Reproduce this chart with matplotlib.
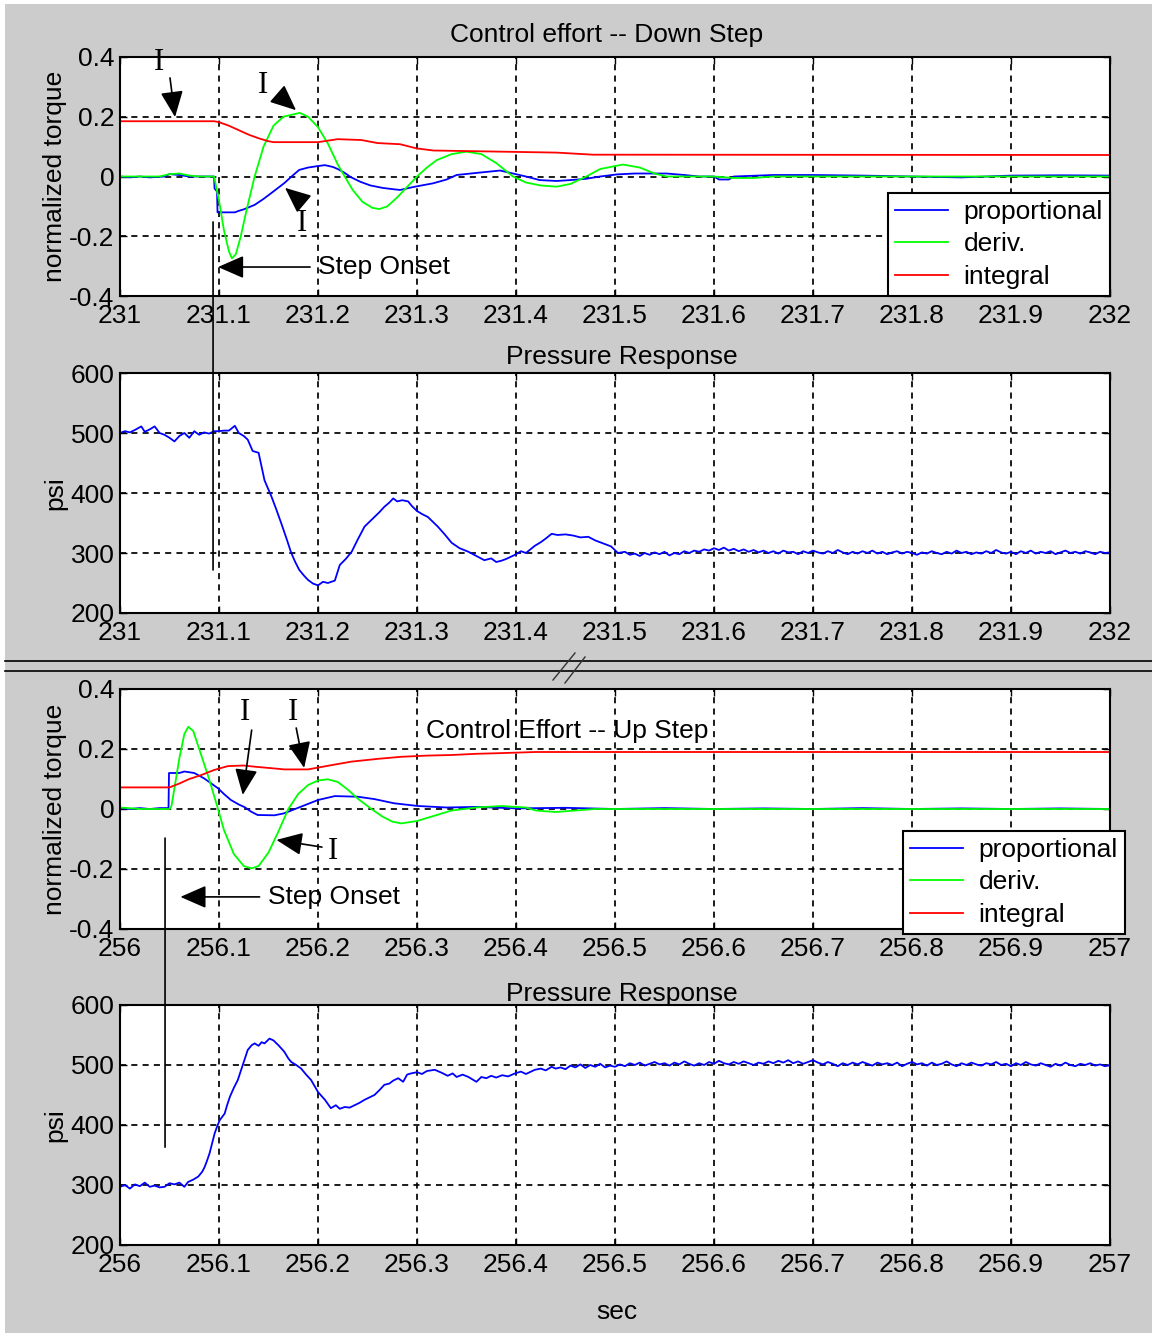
import matplotlib
matplotlib.use("Agg")
import matplotlib.pyplot as plt
from matplotlib.lines import Line2D
from matplotlib.patches import Rectangle, ConnectionPatch

plt.rcParams['font.family'] = ['Liberation Sans', 'DejaVu Sans']

# ---------------- data: Down step (t = 231 .. 232) ----------------
prop_down_t = [231.000, 231.010, 231.020, 231.030, 231.045, 231.050, 231.060, 231.070, 231.080, 231.095,
               231.0955, 231.098, 231.0985, 231.105, 231.116, 231.120, 231.125, 231.136, 231.145, 231.155,
               231.166, 231.175, 231.181, 231.190, 231.200, 231.207, 231.215, 231.220, 231.227, 231.233,
               231.243, 231.253, 231.265, 231.277, 231.283, 231.298, 231.316, 231.330, 231.340, 231.360,
               231.384, 231.397, 231.410, 231.424, 231.441, 231.455, 231.470, 231.485, 231.502, 231.520,
               231.552, 231.570, 231.585, 231.600, 231.605, 231.615, 231.620, 231.660, 231.700, 231.750,
               231.800, 231.850, 231.900, 231.950, 232.000]
prop_down_v = [0.0, -0.003, 0.0, -0.003, 0.0, 0.008, 0.005, 0.0, 0.0, 0.0,
               -0.04, -0.05, -0.12, -0.12, -0.12, -0.115, -0.11, -0.095, -0.075, -0.05,
               -0.022, 0.005, 0.022, 0.030, 0.035, 0.038, 0.032, 0.025, 0.012, -0.002,
               -0.018, -0.030, -0.038, -0.043, -0.045, -0.034, -0.023, -0.010, 0.005, 0.012,
               0.020, 0.010, 0.0, -0.012, -0.015, -0.012, -0.008, 0.0, 0.007, 0.010,
               0.010, 0.005, 0.0, 0.0, -0.010, -0.010, 0.0, 0.005, 0.005, 0.003,
               0.0, -0.003, 0.003, 0.004, 0.003]

deriv_down_t = [231.000, 231.040, 231.050, 231.060, 231.070, 231.080, 231.095, 231.100, 231.105, 231.110,
                231.113, 231.117, 231.122, 231.128, 231.136, 231.145, 231.155, 231.165, 231.1815, 231.190,
                231.200, 231.210, 231.220, 231.227, 231.235, 231.245, 231.255, 231.262, 231.270, 231.280,
                231.290, 231.300, 231.310, 231.320, 231.335, 231.350, 231.365, 231.380, 231.397, 231.410,
                231.425, 231.441, 231.455, 231.471, 231.485, 231.508, 231.525, 231.540, 231.552, 231.600,
                231.620, 231.640, 231.660, 232.000]
deriv_down_v = [0.0, 0.0, 0.008, 0.010, 0.003, 0.0, 0.0, -0.08, -0.18, -0.25,
                -0.274, -0.26, -0.20, -0.11, 0.0, 0.10, 0.17, 0.20, 0.213, 0.20,
                0.165, 0.11, 0.04, 0.0, -0.045, -0.085, -0.105, -0.109, -0.10, -0.07,
                -0.035, 0.0, 0.03, 0.055, 0.075, 0.083, 0.075, 0.045, 0.0, -0.02,
                -0.03, -0.034, -0.025, 0.0, 0.025, 0.04, 0.03, 0.01, 0.0, 0.0,
                -0.005, -0.005, 0.0, 0.0]

integ_down_t = [231.000, 231.095, 231.100, 231.110, 231.120, 231.130, 231.140, 231.150, 231.155, 231.200,
                231.210, 231.220, 231.244, 231.260, 231.283, 231.2997, 231.3165, 231.441, 231.478, 232.000]
integ_down_v = [0.185, 0.185, 0.182, 0.170, 0.155, 0.140, 0.128, 0.118, 0.115, 0.115,
                0.120, 0.125, 0.122, 0.112, 0.108, 0.094, 0.087, 0.080, 0.073, 0.072]

press_down_t = [231.000, 231.005, 231.010, 231.015, 231.0215, 231.025, 231.030, 231.035, 231.040, 231.045,
                231.050, 231.055, 231.060, 231.065, 231.070, 231.075, 231.080, 231.085, 231.090, 231.095,
                231.100, 231.105, 231.110, 231.116, 231.120, 231.125, 231.129, 231.134, 231.140, 231.146,
                231.153, 231.158, 231.163, 231.168, 231.173, 231.177, 231.181, 231.186, 231.190, 231.195,
                231.200, 231.205, 231.210, 231.217, 231.222, 231.228, 231.234, 231.240, 231.247, 231.252,
                231.257, 231.262, 231.267, 231.272, 231.276, 231.280, 231.285, 231.291, 231.295, 231.300,
                231.305, 231.311, 231.316, 231.321, 231.328, 231.335, 231.343, 231.352, 231.360, 231.368,
                231.375, 231.380, 231.385, 231.390, 231.395, 231.399, 231.405, 231.410, 231.419, 231.425,
                231.430, 231.436, 231.442, 231.450, 231.458, 231.465, 231.473, 231.480, 231.488, 231.496,
                231.503, 231.510, 231.515, 231.520, 231.525, 231.530, 231.535, 231.540, 231.545, 231.550,
                231.555, 231.560, 231.565, 231.570, 231.575, 231.580, 231.585, 231.590, 231.595, 231.600,
                231.605, 231.610, 231.615, 231.620, 231.625, 231.630, 231.635, 231.640, 231.645, 231.650,
                231.655, 231.660, 231.665, 231.670, 231.675, 231.680, 231.685, 231.690, 231.695, 231.700,
                231.705, 231.710, 231.715, 231.720, 231.725, 231.730, 231.735, 231.740, 231.745, 231.750,
                231.755, 231.760, 231.765, 231.770, 231.775, 231.780, 231.785, 231.790, 231.795, 231.800,
                231.805, 231.810, 231.815, 231.820, 231.825, 231.830, 231.835, 231.840, 231.845, 231.850,
                231.855, 231.860, 231.865, 231.870, 231.875, 231.880, 231.885, 231.890, 231.895, 231.900,
                231.905, 231.910, 231.915, 231.920, 231.925, 231.930, 231.935, 231.940, 231.945, 231.950,
                231.955, 231.960, 231.965, 231.970, 231.975, 231.980, 231.985, 231.990, 231.995, 232.000]
press_down_v = [500, 503, 501, 505, 511, 502, 506, 511, 500, 497,
                492, 486, 495, 500, 492, 503, 497, 501, 499, 503,
                503, 504, 504, 512, 500, 495, 489, 470, 467, 421,
                394, 372, 349, 325, 300, 285, 272, 262, 255, 249,
                246, 252, 250, 254, 280, 290, 302, 322, 344, 352,
                360, 368, 377, 384, 391, 386, 388, 386, 378, 370,
                365, 360, 352, 344, 331, 317, 308, 302, 295, 288,
                291, 285, 287, 290, 294, 297, 303, 300, 312, 318,
                324, 332, 330, 331, 329, 326, 327, 321, 316, 311,
                300, 302, 297, 299, 295, 300, 297, 301, 298, 302,
                296, 300, 298, 303, 300, 304, 302, 306, 304, 308,
                305, 309, 304, 307, 303, 306, 302, 305, 301, 304,
                300, 303, 299, 304, 301, 302, 298, 303, 300, 304,
                301, 299, 303, 300, 305, 301, 298, 302, 299, 303,
                300, 304, 299, 302, 298, 301, 303, 299, 302, 300,
                297, 301, 299, 303, 300, 298, 302, 299, 304, 300,
                302, 298, 301, 299, 303, 300, 305, 301, 299, 302,
                298, 303, 300, 304, 299, 302, 300, 303, 298, 301,
                304, 300, 302, 299, 303, 301, 298, 302, 300, 301]

# ---------------- data: Up step (t = 256 .. 257) ----------------
prop_up_t = [256.000, 256.010, 256.020, 256.030, 256.040, 256.049, 256.0495, 256.060, 256.065, 256.075,
             256.085, 256.099, 256.105, 256.112, 256.120, 256.126, 256.132, 256.139, 256.156, 256.165,
             256.170, 256.183, 256.200, 256.217, 256.240, 256.257, 256.277, 256.301, 256.330, 256.360,
             256.400, 256.450, 256.500, 256.550, 256.600, 256.650, 256.700, 256.750, 256.800, 256.850,
             256.900, 256.950, 257.000]
prop_up_v = [0.003, 0.0, 0.003, 0.0, 0.003, 0.003, 0.12, 0.12, 0.125, 0.12,
             0.102, 0.069, 0.05, 0.03, 0.015, 0.006, -0.008, -0.02, -0.021, -0.015,
             -0.009, 0.008, 0.03, 0.043, 0.041, 0.033, 0.019, 0.010, 0.005, 0.007,
             0.002, 0.004, 0.0, 0.003, 0.0, 0.002, 0.0, 0.003, 0.0, 0.002,
             0.0, 0.002, 0.0]

deriv_up_t = [256.000, 256.020, 256.050, 256.052, 256.055, 256.060, 256.065, 256.069, 256.074, 256.080,
              256.090, 256.099, 256.105, 256.115, 256.125, 256.133, 256.140, 256.150, 256.160, 256.170,
              256.180, 256.190, 256.200, 256.210, 256.220, 256.230, 256.240, 256.254, 256.265, 256.275,
              256.284, 256.300, 256.320, 256.335, 256.360, 256.385, 256.410, 256.420, 256.440, 256.460,
              256.480, 257.000]
deriv_up_v = [0.005, 0.0, 0.0, 0.01, 0.07, 0.17, 0.25, 0.274, 0.26, 0.20,
              0.10, 0.0, -0.07, -0.15, -0.19, -0.198, -0.19, -0.145, -0.075, 0.0,
              0.05, 0.08, 0.095, 0.099, 0.09, 0.065, 0.035, 0.0, -0.025, -0.042,
              -0.048, -0.04, -0.02, -0.005, 0.005, 0.01, 0.005, -0.005, -0.01, -0.005,
              0.0, 0.0]

integ_up_t = [256.000, 256.050, 256.060, 256.070, 256.082, 256.095, 256.109, 256.125, 256.136, 256.153,
              256.166, 256.190, 256.200, 256.215, 256.234, 256.260, 256.284, 256.310, 256.335, 256.360,
              256.382, 256.420, 257.000]
integ_up_v = [0.072, 0.072, 0.085, 0.100, 0.113, 0.130, 0.143, 0.145, 0.141, 0.136,
              0.132, 0.132, 0.138, 0.147, 0.158, 0.167, 0.174, 0.178, 0.180, 0.184,
              0.186, 0.190, 0.190]

press_up_t = [256.000, 256.005, 256.010, 256.015, 256.020, 256.025, 256.030, 256.035, 256.040, 256.045,
              256.050, 256.055, 256.060, 256.065, 256.0687, 256.074, 256.079, 256.083, 256.0855, 256.088,
              256.0905, 256.093, 256.0956, 256.098, 256.1007, 256.1057, 256.108, 256.111, 256.115, 256.119,
              256.124, 256.129, 256.133, 256.136, 256.140, 256.143, 256.146, 256.151, 256.155, 256.160,
              256.166, 256.170, 256.173, 256.178, 256.183, 256.188, 256.193, 256.200, 256.207, 256.213,
              256.218, 256.222, 256.227, 256.232, 256.237, 256.242, 256.247, 256.252, 256.257, 256.262,
              256.267, 256.272, 256.276, 256.281, 256.286, 256.290, 256.294, 256.300, 256.305, 256.310,
              256.318, 256.325, 256.331, 256.336, 256.340, 256.346, 256.352, 256.356, 256.360, 256.365,
              256.370, 256.375, 256.380, 256.386, 256.392, 256.399, 256.405, 256.410, 256.419, 256.425,
              256.430, 256.436, 256.440, 256.445, 256.450, 256.455, 256.460, 256.465, 256.470, 256.475,
              256.480, 256.485, 256.490, 256.495, 256.500, 256.505, 256.510, 256.515, 256.520, 256.525,
              256.530, 256.535, 256.540, 256.545, 256.550, 256.555, 256.560, 256.565, 256.570, 256.575,
              256.580, 256.585, 256.590, 256.595, 256.600, 256.605, 256.610, 256.615, 256.620, 256.625,
              256.630, 256.635, 256.640, 256.645, 256.650, 256.655, 256.660, 256.665, 256.670, 256.675,
              256.680, 256.685, 256.690, 256.695, 256.700, 256.705, 256.710, 256.715, 256.720, 256.725,
              256.730, 256.735, 256.740, 256.745, 256.750, 256.755, 256.760, 256.765, 256.770, 256.775,
              256.780, 256.785, 256.790, 256.795, 256.800, 256.805, 256.810, 256.815, 256.820, 256.825,
              256.830, 256.835, 256.840, 256.845, 256.850, 256.855, 256.860, 256.865, 256.870, 256.875,
              256.880, 256.885, 256.890, 256.895, 256.900, 256.905, 256.910, 256.915, 256.920, 256.925,
              256.930, 256.935, 256.940, 256.945, 256.950, 256.955, 256.960, 256.965, 256.970, 256.975,
              256.980, 256.985, 256.990, 256.995, 257.000]
press_up_v = [297, 300, 294, 301, 298, 304, 297, 299, 296, 297,
              303, 301, 304, 297, 305, 309, 314, 322, 330, 341,
              353, 369, 386, 397, 408, 419, 432, 447, 462, 475,
              500, 525, 533, 536, 532, 538, 536, 544, 541, 533,
              522, 511, 505, 500, 494, 484, 475, 455, 442, 428,
              433, 427, 430, 429, 433, 437, 442, 446, 450, 458,
              467, 469, 474, 478, 472, 484, 486, 488, 485, 490,
              492, 487, 482, 486, 480, 484, 480, 476, 472, 480,
              478, 482, 479, 483, 481, 486, 489, 485, 492, 494,
              491, 497, 494, 496, 493, 499, 496, 501, 495, 500,
              497, 502, 496, 499, 497, 501, 498, 503, 500, 504,
              499, 502, 505, 501, 503, 499, 504, 501, 506, 502,
              499, 503, 500, 505, 502, 507, 503, 501, 505, 502,
              506, 503, 500, 504, 502, 506, 503, 507, 504, 508,
              503, 506, 502, 505, 508, 504, 501, 505, 502, 498,
              503, 500, 504, 501, 505, 502, 499, 504, 501, 503,
              500, 504, 498, 502, 505, 501, 503, 499, 504, 500,
              502, 506, 501, 498, 503, 500, 504, 501, 499, 503,
              501, 505, 500, 502, 498, 503, 500, 505, 501, 499,
              503, 500, 497, 502, 499, 504, 500, 498, 502, 500,
              503, 499, 501, 498, 500]

ctrl_yticks = [-0.4, -0.2, 0.0, 0.2, 0.4]
ctrl_ylabels = ['-0.4', '-0.2', '0', '0.2', '0.4']
press_yticks = [200, 300, 400, 500, 600]
press_ylabels = ['200', '300', '400', '500', '600']
down_xticks = [231.0, 231.1, 231.2, 231.3, 231.4, 231.5, 231.6, 231.7, 231.8, 231.9, 232.0]
down_xlabels = ['231', '231.1', '231.2', '231.3', '231.4', '231.5', '231.6', '231.7', '231.8', '231.9', '232']
up_xticks = [256.0, 256.1, 256.2, 256.3, 256.4, 256.5, 256.6, 256.7, 256.8, 256.9, 257.0]
up_xlabels = ['256', '256.1', '256.2', '256.3', '256.4', '256.5', '256.6', '256.7', '256.8', '256.9', '257']
series_names = ['proportional', 'deriv.', 'integral']
series_colors = ['#0000ff', '#00ff00', '#ff0000']

# ---------------- figure ----------------
W, H = 1152, 1333
fig = plt.figure(figsize=(W / 100, H / 100), dpi=100, facecolor='white')
fig.patches.append(Rectangle((5 / W, 0), 1 - 5 / W, 1 - 4 / H, transform=fig.transFigure,
                             facecolor='#cccccc', edgecolor='none', zorder=-10))

FS = 19
LW = 1.3


def px_axes(top, bottom):
    return [120 / W, 1 - bottom / H, 990 / W, (bottom - top) / H]


def style(ax, xticks, xlabels, yticks, ylabels, xlim, ylim):
    ax.set_facecolor('white')
    ax.set_xlim(*xlim)
    ax.set_ylim(*ylim)
    ax.set_xticks(xticks)
    ax.set_xticklabels(xlabels)
    ax.set_yticks(yticks)
    ax.set_yticklabels(ylabels)
    ax.tick_params(direction='in', length=5, width=1, top=True, right=True,
                   labelsize=FS, pad=4, colors='black')
    ax.tick_params(axis='x', pad=6)
    ax.grid(True, color='black', linestyle=(0, (3.5, 3.0)), linewidth=1.25)
    ax.set_axisbelow(True)
    for s in ax.spines.values():
        s.set_linewidth(1.5)
        s.set_color('black')


ax1 = fig.add_axes(px_axes(57, 296))
ax2 = fig.add_axes(px_axes(373, 613))
ax3 = fig.add_axes(px_axes(689, 929))
ax4 = fig.add_axes(px_axes(1005, 1245))

style(ax1, down_xticks, down_xlabels, ctrl_yticks, ctrl_ylabels, (231, 232), (-0.4, 0.4))
style(ax2, down_xticks, down_xlabels, press_yticks, press_ylabels, (231, 232), (200, 600))
style(ax3, up_xticks, up_xlabels, ctrl_yticks, ctrl_ylabels, (256, 257), (-0.4, 0.4))
style(ax4, up_xticks, up_xlabels, press_yticks, press_ylabels, (256, 257), (200, 600))

# traces
h1 = ax1.plot(prop_down_t, prop_down_v, color=series_colors[0], lw=LW)[0]
h2 = ax1.plot(deriv_down_t, deriv_down_v, color=series_colors[1], lw=LW)[0]
h3 = ax1.plot(integ_down_t, integ_down_v, color=series_colors[2], lw=LW)[0]
ax2.plot(press_down_t, press_down_v, color='#0000ff', lw=LW)

g1 = ax3.plot(prop_up_t, prop_up_v, color=series_colors[0], lw=LW)[0]
g2 = ax3.plot(deriv_up_t, deriv_up_v, color=series_colors[1], lw=LW)[0]
g3 = ax3.plot(integ_up_t, integ_up_v, color=series_colors[2], lw=LW)[0]
ax4.plot(press_up_t, press_up_v, color='#0000ff', lw=LW)

# legends
leg_kw = dict(fontsize=FS, frameon=True, fancybox=False, edgecolor='black', framealpha=1,
              borderaxespad=0, handlelength=2.0, handletextpad=0.6, borderpad=0.27,
              labelspacing=0.32)
leg1 = ax1.legend([h1, h2, h3], series_names, loc='lower right', bbox_to_anchor=(1.0, 0.0), **leg_kw)
leg1.get_frame().set_linewidth(1.5)
leg3 = ax3.legend([g1, g2, g3], series_names, loc='lower right',
                  bbox_to_anchor=((1125 - 120) / 990, (929 - 934) / 240), **leg_kw)
leg3.get_frame().set_linewidth(1.5)

# y labels
for ax, lab in [(ax1, 'normalized torque'), (ax2, 'psi'), (ax3, 'normalized torque'), (ax4, 'psi')]:
    ax.set_ylabel(lab, fontsize=FS)
    ax.yaxis.set_label_coords((55 - 120) / 990, 0.5)
    ax.yaxis.label.set_va('center')

# titles
ax1.text((607 - 120) / 990, 1 + (57 - 41.7) / 239, 'Control effort -- Down Step', transform=ax1.transAxes,
         ha='center', va='baseline', fontsize=FS)
ax2.text(0.5066, 1 + (373 - 363.5) / 240, 'Pressure Response', transform=ax2.transAxes,
         ha='center', va='baseline', fontsize=FS)
ax3.text(256.4515, 0.236, 'Control Effort -- Up Step', ha='center', va='baseline', fontsize=FS)
ax4.text(0.5066, 1 + (1005 - 1001) / 240, 'Pressure Response', transform=ax4.transAxes,
         ha='center', va='baseline', fontsize=FS)
fig.text(617 / W, 1 - 1319 / H, 'sec', ha='center', va='baseline', fontsize=FS)

# step-onset vertical markers spanning two axes
cp1 = ConnectionPatch(xyA=(231.094, -0.152), coordsA=ax1.transData,
                      xyB=(231.094, 271.7), coordsB=ax2.transData, color='black', lw=1.2)
fig.add_artist(cp1)
cp2 = ConnectionPatch(xyA=(256.0455, -0.097), coordsA=ax3.transData,
                      xyB=(256.0455, 363), coordsB=ax4.transData, color='black', lw=1.2)
fig.add_artist(cp2)

arrow_kw = dict(arrowstyle='-|>,head_length=0.8,head_width=0.35', color='black', lw=1.2,
                mutation_scale=20, shrinkA=0, shrinkB=0)

# Step Onset arrows + text
ax1.annotate('', xy=(231.099, -0.303), xytext=(231.192, -0.303), arrowprops=arrow_kw, annotation_clip=False)
ax1.text(231.2, -0.303, 'Step Onset', ha='left', va='center', fontsize=FS)
ax3.annotate('', xy=(256.061, -0.293), xytext=(256.141, -0.293), arrowprops=arrow_kw, annotation_clip=False)
ax3.text(256.149, -0.293, 'Step Onset', ha='left', va='center', fontsize=FS)

# "I" callouts (serif)
serif = ['Liberation Serif', 'DejaVu Serif']
def callout(ax, txt_xy, tail, tip):
    ax.text(txt_xy[0], txt_xy[1], 'I', ha='center', va='center', fontsize=22, family=serif, clip_on=False)
    ax.annotate('', xy=tip, xytext=tail, arrowprops=arrow_kw, annotation_clip=False)

callout(ax1, (231.0394, 0.383), (231.0505, 0.33), (231.0556, 0.199))
callout(ax1, (231.1444, 0.306), (231.1626, 0.266), (231.1778, 0.222))
callout(ax1, (231.184, -0.156), (231.185, -0.089), (231.1667, -0.038))
callout(ax3, (256.126, 0.32), (256.133, 0.263), (256.124, 0.047))
callout(ax3, (256.175, 0.323), (256.178, 0.27), (256.186, 0.137))
callout(ax3, (256.215, -0.143), (256.204, -0.127), (256.158, -0.103))

# section separator with break mark
for yy in (661, 671):
    fig.add_artist(Line2D([5 / W, 1], [1 - yy / H] * 2, transform=fig.transFigure, color='black', lw=1.2))
for (xa, ya, xb, yb) in [(575, 653, 553, 680), (585, 657, 565, 683)]:
    fig.add_artist(Line2D([xa / W, xb / W], [1 - ya / H, 1 - yb / H], transform=fig.transFigure,
                          color='#333333', lw=1.0))

fig.savefig('out.png', dpi=100, facecolor=fig.get_facecolor())
